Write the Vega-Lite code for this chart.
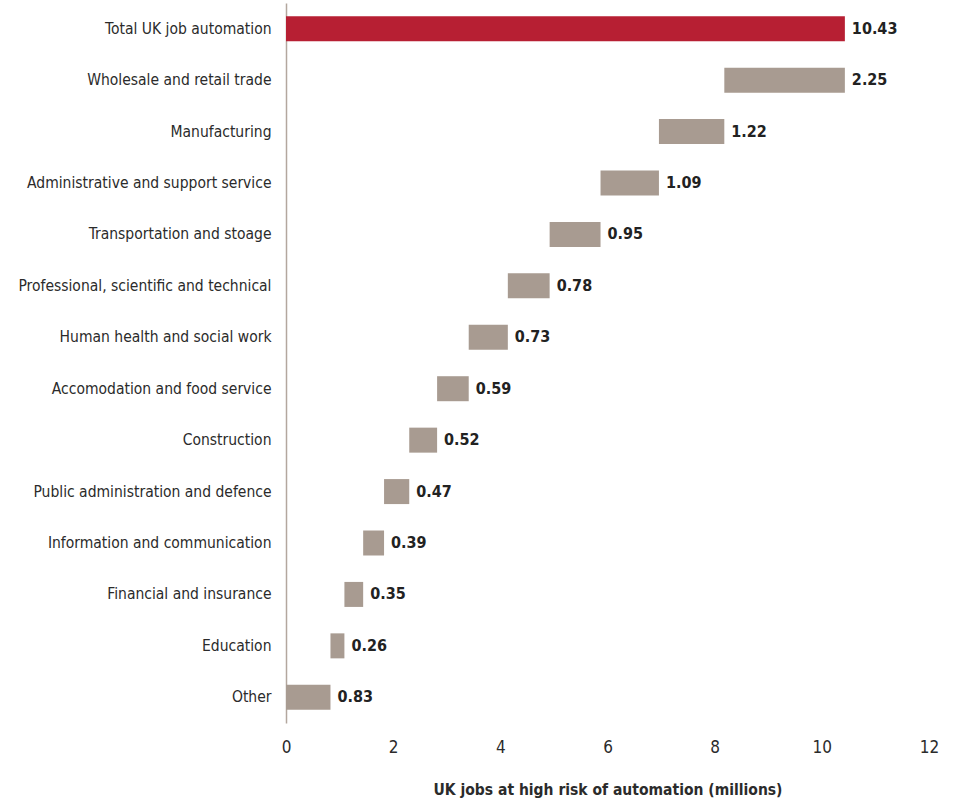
{
  "$schema": "https://vega.github.io/schema/vega-lite/v6.json",
  "autosize": "none",
  "width": 643,
  "height": 720,
  "padding": {"left": 286, "top": 3, "right": 27, "bottom": 82},
  "background": "white",
  "config": {
    "view": {"stroke": null},
    "font": "'DejaVu Sans Condensed', Roboto, sans-serif"
  },
  "data": {
    "values": [
      {"sector": "Total UK job automation", "start": 0, "end": 10.43, "value": 10.43, "kind": "total"},
      {"sector": "Wholesale and retail trade", "start": 8.18, "end": 10.43, "value": 2.25, "kind": "part"},
      {"sector": "Manufacturing", "start": 6.96, "end": 8.18, "value": 1.22, "kind": "part"},
      {"sector": "Administrative and support service", "start": 5.87, "end": 6.96, "value": 1.09, "kind": "part"},
      {"sector": "Transportation and stoage", "start": 4.92, "end": 5.87, "value": 0.95, "kind": "part"},
      {"sector": "Professional, scientific and technical", "start": 4.14, "end": 4.92, "value": 0.78, "kind": "part"},
      {"sector": "Human health and social work", "start": 3.41, "end": 4.14, "value": 0.73, "kind": "part"},
      {"sector": "Accomodation and food service", "start": 2.82, "end": 3.41, "value": 0.59, "kind": "part"},
      {"sector": "Construction", "start": 2.30, "end": 2.82, "value": 0.52, "kind": "part"},
      {"sector": "Public administration and defence", "start": 1.83, "end": 2.30, "value": 0.47, "kind": "part"},
      {"sector": "Information and communication", "start": 1.44, "end": 1.83, "value": 0.39, "kind": "part"},
      {"sector": "Financial and insurance", "start": 1.09, "end": 1.44, "value": 0.35, "kind": "part"},
      {"sector": "Education", "start": 0.83, "end": 1.09, "value": 0.26, "kind": "part"},
      {"sector": "Other", "start": 0, "end": 0.83, "value": 0.83, "kind": "part"}
    ]
  },
  "encoding": {
    "y": {
      "field": "sector",
      "type": "nominal",
      "sort": null,
      "scale": {"paddingInner": 0, "paddingOuter": 0},
      "axis": {
        "title": null,
        "ticks": false,
        "domain": true,
        "domainColor": "#b3a79e",
        "domainWidth": 1.5,
        "labelFontSize": 15.5,
        "labelColor": "#2b2b2b",
        "labelPadding": 15,
        "labelFont": "'DejaVu Sans Condensed', Roboto, sans-serif",
        "labelLimit": 400
      }
    }
  },
  "layer": [
    {
      "mark": {"type": "bar", "size": 25},
      "encoding": {
        "x": {
          "field": "start",
          "type": "quantitative",
          "scale": {"domain": [0, 12], "nice": false},
          "axis": {
            "values": [0, 2, 4, 6, 8, 10, 12],
            "format": "d",
            "labelFlush": false,
            "grid": false,
            "domain": false,
            "ticks": false,
            "labelFontSize": 17,
            "labelColor": "#2b2b2b",
            "labelPadding": 16,
            "labelFont": "'DejaVu Sans Condensed', Roboto, sans-serif",
            "title": "UK jobs at high risk of automation (millions)",
            "titleFontSize": 15.5,
            "titleFontWeight": "bold",
            "titleColor": "#2b2b2b",
            "titlePadding": 27,
            "titleFont": "'DejaVu Sans Condensed', Roboto, sans-serif"
          }
        },
        "x2": {"field": "end"},
        "color": {
          "field": "kind",
          "type": "nominal",
          "scale": {"domain": ["total", "part"], "range": ["#b71f33", "#a89b91"]},
          "legend": null
        }
      }
    },
    {
      "mark": {"type": "text", "align": "left", "baseline": "middle", "dx": 7, "fontSize": 16, "fontWeight": "bold", "color": "#222222", "font": "'DejaVu Sans Condensed', Roboto, sans-serif"},
      "encoding": {
        "x": {"field": "end", "type": "quantitative"},
        "text": {"field": "value", "type": "quantitative", "format": ".2f"}
      }
    }
  ]
}
